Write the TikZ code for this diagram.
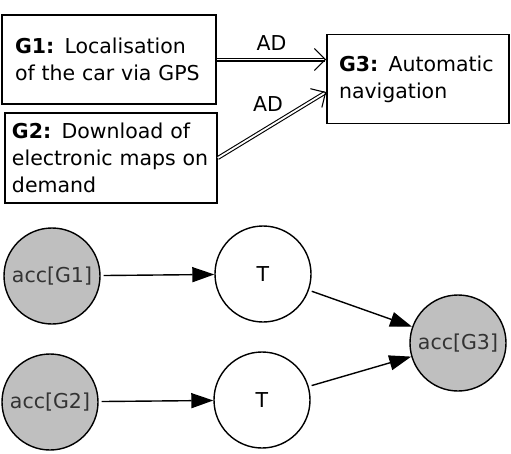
\documentclass[tikz,border=0pt]{standalone}
\usepackage{fontspec}
\setmainfont{DejaVu Sans}
\usetikzlibrary{arrows.meta}
\begin{document}
\begin{tikzpicture}[x=1pt,y=-1pt,
  goal/.style={draw,line width=1.6pt,minimum height=89pt,align=left,font=\fontsize{20.5}{27}\selectfont},
  acc/.style={circle,draw,line width=1.4pt,fill=black!25,minimum size=96pt,inner sep=0pt,text=black!80,font=\fontsize{20.5}{24}\selectfont},
  tnode/.style={circle,draw,line width=1.4pt,minimum size=96pt,inner sep=0pt,font=\fontsize{20.5}{24}\selectfont},
  ad/.style={double,line width=1.1pt,double distance=1.8pt,-{Straight Barb[length=11pt,width=22pt]}},
  link/.style={line width=1.4pt,shorten <=3pt,-{Triangle[length=22pt,width=15pt]}},
  lbl/.style={font=\fontsize{20.5}{24}\selectfont}]
\useasboundingbox (0,0) rectangle (511,453);

\node[goal,text width=188pt,inner xsep=13pt] (g1) at (109,59.5) {\textbf{G1:} Localisation\\of the car via GPS};
\node[goal,text width=198pt,inner xsep=7pt,minimum height=90pt] (g2) at (111,158) {\textbf{G2:} Download of\\electronic maps on\\demand};
\node[goal,text width=158pt,inner xsep=12pt] (g3) at (418,79) {\textbf{G3:} Automatic\\navigation};

\draw[ad] (g1.east) -- (g1.east -| g3.west) node[midway,above=5pt,lbl]{AD};
\draw[ad] (g2.east) -- ([yshift=-13pt]g3.west) node[midway,above=10pt,xshift=-4pt,lbl]{AD};

\node[acc] (a1) at (52,276) {acc[G1]};
\node[tnode] (t1) at (263,274) {T};
\node[acc] (a2) at (50,402) {acc[G2]};
\node[tnode] (t2) at (262,400) {T};
\node[acc] (a3) at (458,343) {acc[G3]};

\foreach \a/\b in {a1/t1,a2/t2,t1/a3,t2/a3}{
\draw[link] (\a) -- (\b);
}
\end{tikzpicture}
\end{document}
